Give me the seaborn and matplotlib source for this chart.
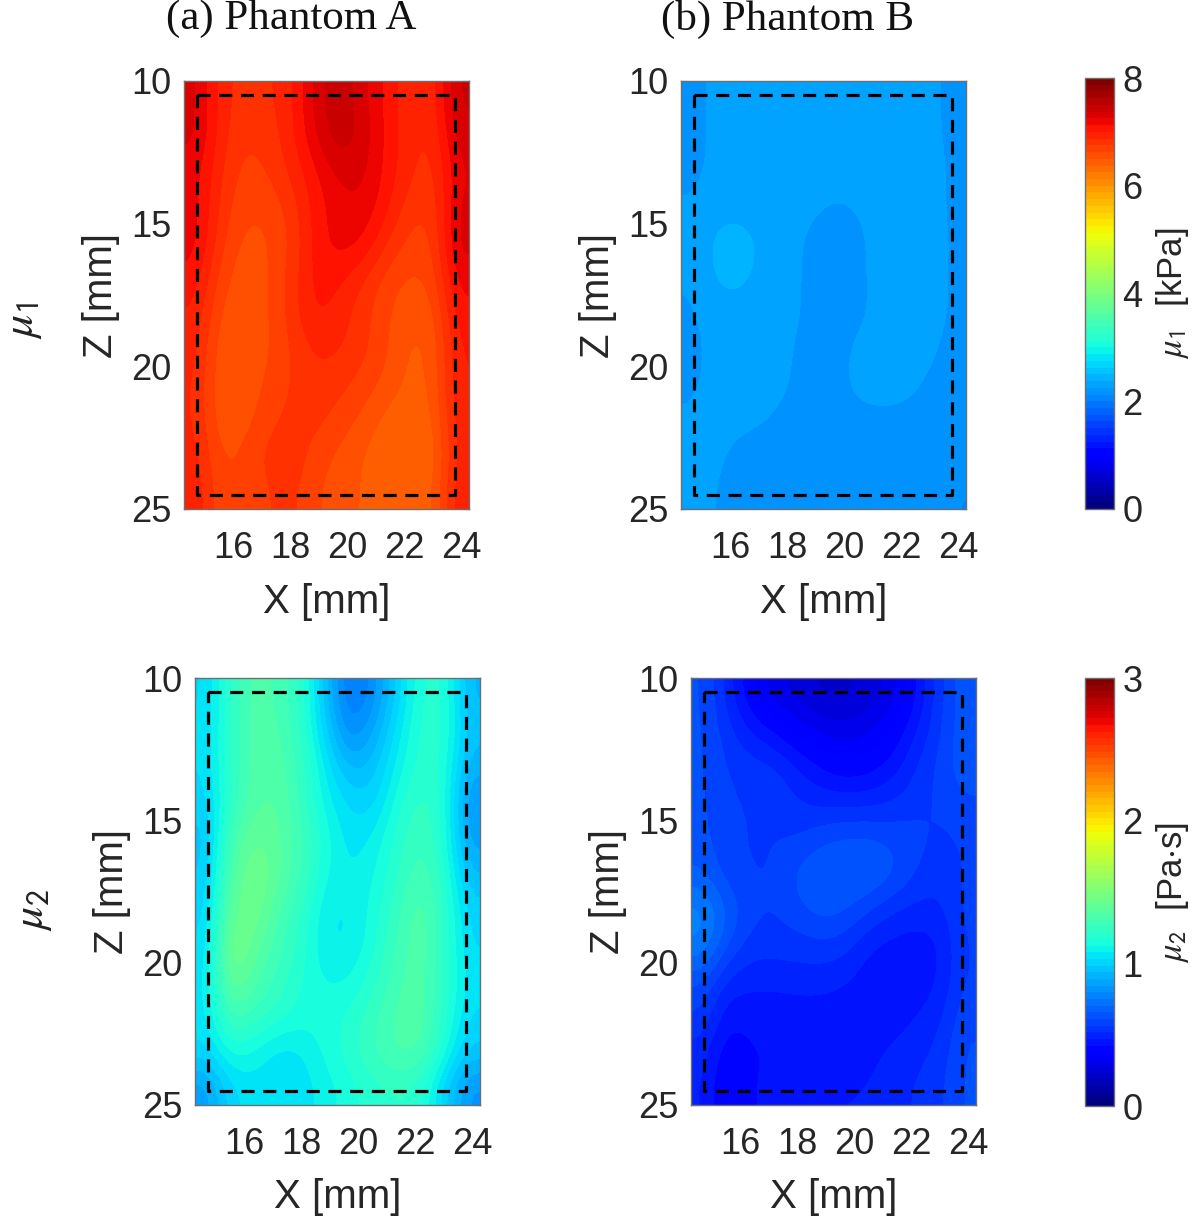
import numpy as np
import pandas as pd
import matplotlib
matplotlib.use("Agg")
import matplotlib.pyplot as plt
import seaborn as sns

sns.set_theme(style="white")
plt.rcParams["font.family"] = ["Liberation Sans", "DejaVu Sans"]
plt.rcParams["mathtext.fontset"] = "stix"

x_ticks = [16, 18, 20, 22, 24]
z_ticks = [10, 15, 20, 25]
titles = ["(a) Phantom A", "(b) Phantom B"]
row_labels = [r"$\mu_{\mathsf{1}}$", r"$\mu_{\mathsf{2}}$"]
cbar_labels = [r"$\mu_{\mathsf{1}}$  [kPa]", r"$\mu_{\mathsf{2}}$  [Pa$\cdot$s]"]
x_range = (14.25, 24.28)
z_range = (10, 25)
roi_x = [14.7, 23.78, 23.78, 14.7, 14.7]
roi_z = [10.5, 10.5, 24.5, 24.5, 10.5]

a_mu1 = [
    [7.3, 6.95, 6.8, 6.85, 6.95, 7.3, 7.5, 7.3, 7.1, 6.9, 6.9, 7.42],
    [7.3, 6.95, 6.75, 6.8, 6.95, 7.25, 7.5, 7.35, 7.1, 6.9, 6.85, 7.35],
    [7.2, 6.9, 6.7, 6.75, 6.9, 7.1, 7.3, 7.3, 7.1, 6.9, 6.8, 7.25],
    [7.2, 6.85, 6.65, 6.65, 6.8, 7.05, 7.2, 7.25, 7.05, 6.8, 6.75, 7.3],
    [7.2, 6.8, 6.58, 6.6, 6.75, 7.05, 7.2, 7.15, 6.9, 6.7, 6.7, 7.33],
    [7.1, 6.7, 6.53, 6.6, 6.8, 7.05, 7.05, 6.9, 6.7, 6.6, 6.65, 7.2],
    [7.0, 6.6, 6.51, 6.6, 6.8, 7.05, 6.95, 6.8, 6.65, 6.52, 6.55, 7.1],
    [6.95, 6.53, 6.51, 6.6, 6.75, 6.9, 6.9, 6.8, 6.65, 6.47, 6.5, 7.02],
    [6.9, 6.51, 6.53, 6.65, 6.75, 6.85, 6.8, 6.7, 6.6, 6.45, 6.5, 7.02],
    [6.9, 6.52, 6.56, 6.7, 6.8, 6.8, 6.7, 6.6, 6.45, 6.4, 6.45, 6.98],
    [6.95, 6.6, 6.65, 6.8, 6.85, 6.7, 6.6, 6.5, 6.4, 6.36, 6.4, 6.95],
    [7.0, 6.65, 6.6, 6.75, 6.8, 6.65, 6.55, 6.5, 6.4, 6.4, 6.45, 7.0],
]
b_mu1 = [
    [2.19, 2.3, 2.31, 2.31, 2.31, 2.31, 2.31, 2.31, 2.31, 2.3, 2.29, 2.2],
    [2.19, 2.3, 2.31, 2.31, 2.31, 2.31, 2.31, 2.31, 2.31, 2.3, 2.29, 2.21],
    [2.2, 2.3, 2.31, 2.31, 2.31, 2.31, 2.31, 2.31, 2.31, 2.31, 2.3, 2.22],
    [2.27, 2.33, 2.34, 2.32, 2.31, 2.28, 2.23, 2.26, 2.31, 2.31, 2.3, 2.22],
    [2.28, 2.42, 2.42, 2.36, 2.31, 2.21, 2.19, 2.22, 2.31, 2.31, 2.3, 2.23],
    [2.26, 2.41, 2.41, 2.34, 2.3, 2.21, 2.19, 2.22, 2.31, 2.31, 2.29, 2.23],
    [2.23, 2.32, 2.33, 2.31, 2.3, 2.21, 2.19, 2.21, 2.31, 2.31, 2.3, 2.23],
    [2.2, 2.31, 2.31, 2.31, 2.27, 2.19, 2.19, 2.29, 2.32, 2.32, 2.28, 2.2],
    [2.22, 2.31, 2.31, 2.31, 2.26, 2.19, 2.2, 2.3, 2.32, 2.3, 2.22, 2.2],
    [2.27, 2.31, 2.29, 2.26, 2.21, 2.19, 2.19, 2.2, 2.21, 2.2, 2.19, 2.18],
    [2.28, 2.28, 2.2, 2.19, 2.19, 2.19, 2.19, 2.19, 2.19, 2.19, 2.19, 2.16],
    [2.27, 2.26, 2.18, 2.18, 2.18, 2.19, 2.19, 2.19, 2.19, 2.19, 2.18, 2.12],
]
a_mu2 = [
    [1.02, 1.22, 1.35, 1.3, 1.22, 0.95, 0.72, 0.8, 1.0, 1.18, 1.2, 0.92],
    [1.03, 1.22, 1.35, 1.33, 1.22, 1.0, 0.78, 0.88, 1.05, 1.2, 1.2, 0.95],
    [1.03, 1.22, 1.35, 1.35, 1.25, 1.07, 0.92, 0.95, 1.1, 1.2, 1.18, 0.9],
    [1.0, 1.22, 1.35, 1.37, 1.25, 1.1, 1.02, 1.0, 1.15, 1.25, 1.18, 0.82],
    [0.95, 1.3, 1.42, 1.38, 1.28, 1.15, 1.05, 1.08, 1.2, 1.27, 1.18, 0.85],
    [0.97, 1.35, 1.47, 1.38, 1.27, 1.13, 1.07, 1.12, 1.2, 1.32, 1.2, 0.93],
    [1.0, 1.4, 1.47, 1.32, 1.22, 1.08, 1.07, 1.14, 1.25, 1.36, 1.22, 1.0],
    [1.02, 1.5, 1.4, 1.28, 1.2, 1.07, 1.07, 1.15, 1.28, 1.36, 1.22, 1.02],
    [1.05, 1.45, 1.33, 1.25, 1.17, 1.12, 1.12, 1.2, 1.3, 1.35, 1.22, 1.05],
    [1.05, 1.3, 1.25, 1.2, 1.15, 1.15, 1.18, 1.25, 1.33, 1.36, 1.2, 1.02],
    [1.02, 1.15, 1.12, 1.05, 1.07, 1.14, 1.2, 1.27, 1.33, 1.33, 1.15, 0.97],
    [0.85, 1.02, 1.05, 1.03, 1.05, 1.1, 1.15, 1.2, 1.22, 1.2, 1.0, 0.82],
]
b_mu2 = [
    [0.62, 0.5, 0.38, 0.3, 0.26, 0.22, 0.22, 0.25, 0.3, 0.42, 0.55, 0.65],
    [0.62, 0.54, 0.47, 0.42, 0.36, 0.32, 0.3, 0.32, 0.38, 0.47, 0.56, 0.65],
    [0.62, 0.56, 0.54, 0.53, 0.47, 0.42, 0.38, 0.4, 0.44, 0.52, 0.58, 0.65],
    [0.62, 0.57, 0.56, 0.56, 0.52, 0.5, 0.5, 0.5, 0.52, 0.55, 0.57, 0.6],
    [0.63, 0.57, 0.56, 0.56, 0.56, 0.6, 0.62, 0.62, 0.6, 0.58, 0.55, 0.57],
    [0.66, 0.58, 0.56, 0.56, 0.63, 0.66, 0.67, 0.67, 0.63, 0.56, 0.53, 0.57],
    [0.78, 0.66, 0.58, 0.56, 0.6, 0.64, 0.62, 0.57, 0.52, 0.5, 0.5, 0.58],
    [0.76, 0.62, 0.54, 0.54, 0.54, 0.55, 0.54, 0.47, 0.45, 0.44, 0.46, 0.57],
    [0.62, 0.5, 0.48, 0.48, 0.49, 0.49, 0.47, 0.44, 0.43, 0.43, 0.47, 0.57],
    [0.56, 0.43, 0.44, 0.44, 0.44, 0.44, 0.44, 0.44, 0.44, 0.47, 0.5, 0.6],
    [0.5, 0.38, 0.42, 0.42, 0.42, 0.42, 0.44, 0.45, 0.48, 0.5, 0.53, 0.62],
    [0.48, 0.35, 0.42, 0.44, 0.45, 0.47, 0.47, 0.47, 0.5, 0.52, 0.55, 0.62],
]

W, H = 1200, 1216
fig = plt.figure(figsize=(W / 100, H / 100), dpi=100, facecolor="white")
cmap = plt.get_cmap("jet").resampled(64)
TXT = "#262626"
EDGE = "#6e6e6e"


def add_axes(x0, y0, x1, y1):
    return fig.add_axes([x0 / W, 1 - y1 / H, (x1 - x0) / W, (y1 - y0) / H])


def to_col(x, n):
    return (np.asarray(x, float) - x_range[0]) / (x_range[1] - x_range[0]) * n


def to_row(z, m):
    return (np.asarray(z, float) - z_range[0]) / (z_range[1] - z_range[0]) * m


panels = [
    (a_mu1, (184, 81, 469, 509), 8, 0),
    (b_mu1, (681, 81, 966, 509), 8, None),
    (a_mu2, (195, 678, 480, 1105), 3, 1),
    (b_mu2, (691, 678, 976, 1105), 3, None),
]
cbar_boxes = {0: (1085, 78, 1114, 509), 1: (1085, 678, 1114, 1106)}

for values, box, vmax, cb in panels:
    ax = add_axes(*box)
    grid = pd.DataFrame(values)
    m, n = grid.shape
    if cb is not None:
        kw = {"cbar": True, "cbar_ax": add_axes(*cbar_boxes[cb])}
    else:
        kw = {"cbar": False}
    sns.heatmap(grid, ax=ax, cmap=cmap, vmin=0, vmax=vmax, xticklabels=False,
                yticklabels=False, **kw)
    ax.imshow(grid.values, extent=(0, n, m, 0), aspect="auto", cmap=cmap, vmin=0,
              vmax=vmax, interpolation="bicubic", interpolation_stage="data", zorder=2)
    ax.set_xlim(0, n)
    ax.set_ylim(m, 0)
    ax.plot(to_col(roi_x, n), to_row(roi_z, m), color="black", lw=2.3,
            dashes=(4.1, 2.7), zorder=4)
    ax.set_xticks(to_col(x_ticks, n))
    ax.set_xticklabels([str(v) for v in x_ticks])
    ax.set_yticks(to_row(z_ticks, m))
    ax.set_yticklabels([str(v) for v in z_ticks], rotation=0)
    ax.tick_params(axis="both", direction="in", length=4, width=0.8, color="#444444",
                   labelsize=26, labelcolor=TXT, top=True, right=True, bottom=True,
                   left=True, zorder=5)
    ax.tick_params(axis="x", pad=16)
    ax.tick_params(axis="y", pad=9)
    ax.set_xlabel("X [mm]", fontsize=29, color=TXT)
    ax.set_ylabel("Z [mm]", fontsize=29, color=TXT)
    ax.xaxis.set_label_coords(0.5, -0.172)
    ax.yaxis.set_label_coords(-0.225, 0.5)
    for sp in ax.spines.values():
        sp.set_visible(True)
        sp.set_color(EDGE)
        sp.set_linewidth(1.0)
        sp.set_zorder(6)
    if cb is not None:
        c = ax.collections[0].colorbar
        c.set_ticks(np.arange(0, vmax + 1, 2 if vmax == 8 else 1))
        c.ax.tick_params(direction="in", length=4, width=0.8, color="#444444", right=True,
                         labelsize=26, labelcolor=TXT, pad=6)
        c.outline.set_visible(True)
        c.outline.set_edgecolor(EDGE)
        c.outline.set_linewidth(1.0)
        c.set_label(cbar_labels[cb], fontsize=25, color=TXT, labelpad=8)

fig.text(291 / W, 1 - 19 / H, titles[0], family="Liberation Serif", fontsize=31,
         color="#111111", ha="center", va="center")
fig.text(788 / W, 1 - 19 / H, titles[1], family="Liberation Serif", fontsize=31,
         color="#111111", ha="center", va="center")
fig.text(22 / W, 1 - 320 / H, row_labels[0], fontsize=33, rotation=90, color="#222222",
         ha="center", va="center")
fig.text(32 / W, 1 - 910 / H, row_labels[1], fontsize=33, rotation=90, color="#222222",
         ha="center", va="center")

fig.savefig("out.png", dpi=100, facecolor="white")
